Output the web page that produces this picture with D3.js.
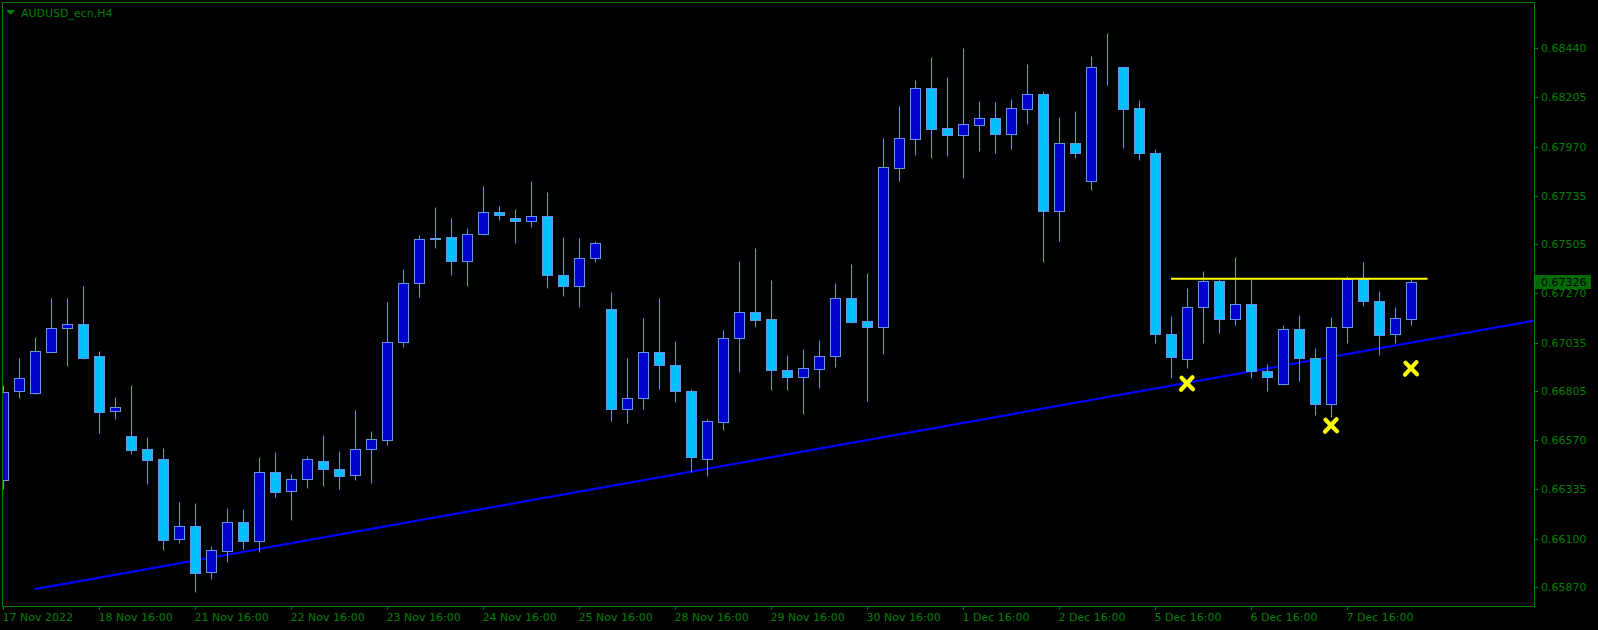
<!DOCTYPE html>
<html>
<head>
<meta charset="utf-8">
<script src="https://cdn.jsdelivr.net/npm/d3@7/dist/d3.min.js"></script>
<style>
  html, body { margin: 0; padding: 0; background: #000; }
  svg { display: block; }
  text { font-family: "DejaVu Sans", sans-serif; }
</style>
</head>
<body>
<script>
// ---------------- data ----------------
const symbolTitle = "AUDUSD_ecn,H4";
const timeLabels = ["17 Nov 2022","18 Nov 16:00","21 Nov 16:00","22 Nov 16:00","23 Nov 16:00","24 Nov 16:00","25 Nov 16:00","28 Nov 16:00","29 Nov 16:00","30 Nov 16:00","1 Dec 16:00","2 Dec 16:00","5 Dec 16:00","6 Dec 16:00","7 Dec 16:00"];
const timeLabelBars = [0,6,12,18,24,30,36,42,48,54,60,66,72,78,84];
const priceTicks = ["0.68440","0.68205","0.67970","0.67735","0.67505","0.67270","0.67035","0.66805","0.66570","0.66335","0.66100","0.65870"];

const open = [0.66379,0.66803,0.66794,0.66992,0.67104,0.67123,0.66970,0.66708,0.66589,0.66527,
0.66479,0.66097,0.66159,0.65940,0.66040,0.66179,0.66088,0.66417,0.66326,0.66384,
0.66469,0.66431,0.66403,0.66527,0.66569,0.67037,0.67318,0.67532,0.67537,0.67423,
0.67552,0.67657,0.67628,0.67614,0.67638,0.67356,0.67304,0.67437,0.67194,0.66717,
0.66770,0.66989,0.66927,0.66803,0.66479,0.66655,0.67056,0.67180,0.67146,0.66903,
0.66870,0.66911,0.66970,0.67247,0.67137,0.67108,0.67866,0.68005,0.68248,0.68057,
0.68027,0.68071,0.68105,0.68031,0.68151,0.68219,0.67664,0.67986,0.67807,0.68348,
0.68348,0.68152,0.67938,0.67075,0.66956,0.67204,0.67328,0.67149,0.67218,0.66898,
0.66836,0.67099,0.66963,0.66744,0.67108,0.67339,0.67232,0.67078,0.67146];
const high = [0.66833,0.66962,0.67062,0.67248,0.67248,0.67305,0.66994,0.66776,0.66833,0.66585,
0.66533,0.66275,0.66271,0.66066,0.66247,0.66242,0.66490,0.66514,0.66409,0.66495,
0.66595,0.66518,0.66714,0.66614,0.67229,0.67386,0.67548,0.67682,0.67629,0.67582,
0.67782,0.67687,0.67672,0.67806,0.67753,0.67539,0.67533,0.67520,0.67275,0.66962,
0.67153,0.67248,0.67043,0.66814,0.66672,0.67094,0.67426,0.67486,0.67332,0.66976,
0.67005,0.67048,0.67320,0.67410,0.67367,0.68011,0.68163,0.68287,0.68397,0.68302,
0.68440,0.68187,0.68183,0.68197,0.68364,0.68235,0.68111,0.68140,0.68402,0.68512,
0.68350,0.68192,0.67958,0.67162,0.67296,0.67377,0.67337,0.67443,0.67337,0.66932,
0.67119,0.67167,0.67010,0.67157,0.67353,0.67420,0.67281,0.67205,0.67337];
const low = [0.66337,0.66771,0.66790,0.66990,0.66925,0.66959,0.66606,0.66672,0.66506,0.66363,
0.66048,0.66081,0.65848,0.65910,0.65991,0.66051,0.66038,0.66301,0.66191,0.66343,
0.66353,0.66339,0.66382,0.66367,0.66548,0.67016,0.67254,0.67488,0.67359,0.67307,
0.67550,0.67621,0.67512,0.67585,0.67294,0.67259,0.67204,0.67421,0.66660,0.66651,
0.66717,0.66816,0.66754,0.66417,0.66398,0.66617,0.66894,0.67108,0.66808,0.66811,
0.66696,0.66819,0.66920,0.67130,0.66758,0.66982,0.67807,0.67931,0.67917,0.67926,
0.67822,0.67950,0.67941,0.67960,0.68079,0.67421,0.67521,0.67917,0.67764,0.68264,
0.67965,0.67907,0.67035,0.66868,0.66916,0.67035,0.67083,0.67121,0.66868,0.66806,
0.66835,0.66854,0.66692,0.66682,0.67035,0.67211,0.66978,0.67035,0.67121];
const close = [0.66801,0.66865,0.66994,0.67104,0.67123,0.66963,0.66706,0.66727,0.66525,0.66477,
0.66093,0.66159,0.65935,0.66045,0.66179,0.66088,0.66417,0.66324,0.66384,0.66479,
0.66434,0.66401,0.66527,0.66574,0.67037,0.67318,0.67528,0.67531,0.67423,0.67552,
0.67657,0.67642,0.67614,0.67638,0.67356,0.67304,0.67437,0.67509,0.66717,0.66770,
0.66989,0.66927,0.66803,0.66488,0.66660,0.67056,0.67180,0.67142,0.66903,0.66873,
0.66913,0.66970,0.67247,0.67135,0.67108,0.67871,0.68009,0.68248,0.68055,0.68027,
0.68076,0.68105,0.68031,0.68152,0.68219,0.67664,0.67986,0.67941,0.68348,0.68349,
0.68151,0.67938,0.67075,0.66965,0.67204,0.67328,0.67149,0.67218,0.66898,0.66873,
0.67099,0.66960,0.66744,0.67108,0.67339,0.67235,0.67073,0.67151,0.67326];

const currentPrice = "0.67326";
// trendline anchors (bar index, price)
const trendBars = [2, 88];
const trendPrices = [0.65860, 0.67035];
// horizontal level (bar range, price)
const levelBars = [73, 89];
const levelPrice = 0.67340;
// cross markers
const markBars = [74, 83, 88];
const markPrices = [0.66839, 0.66639, 0.66911];

// ---------------- drawing ----------------
const W = 1598, H = 630;
const frame = {l: 2, t: 2, r: 1534, b: 606};
const GREEN = "#008000";
const WICK = "#6495ED";
const BULL = "#0000CD";
const BEAR = "#00BFFF";

const svg = d3.select("body").append("svg").attr("width", W).attr("height", H);
svg.append("rect").attr("width", W).attr("height", H).attr("fill", "#000");

const x = d3.scaleLinear().domain([0, 88]).range([3, 1411]);
const y = d3.scaleLinear().domain([0.65870, 0.68440]).range([587, 48]);

svg.append("clipPath").attr("id", "plot")
  .append("rect").attr("x", frame.l + 1).attr("y", frame.t + 1)
  .attr("width", frame.r - frame.l - 1).attr("height", frame.b - frame.t - 1);

const plot = svg.append("g").attr("clip-path", "url(#plot)");

const bars = d3.range(open.length).map(i => ({i, o: open[i], h: high[i], l: low[i], c: close[i]}));
const py = v => Math.round(y(v)) + 0.5;

// trendline (ray to the right)
const slope = (y(trendPrices[1]) - y(trendPrices[0])) / (x(trendBars[1]) - x(trendBars[0]));
const tx0 = x(trendBars[0]), ty0 = y(trendPrices[0]);
const tx1 = frame.r;
plot.append("line")
  .attr("x1", tx0).attr("y1", ty0)
  .attr("x2", tx1).attr("y2", ty0 + slope * (tx1 - tx0))
  .attr("stroke", "#0000FF").attr("stroke-width", 2.2);

// wicks
plot.selectAll("line.wick").data(bars).join("line").attr("class", "wick")
  .attr("x1", d => Math.round(x(d.i)) + 0.5).attr("x2", d => Math.round(x(d.i)) + 0.5)
  .attr("y1", d => py(d.h)).attr("y2", d => py(d.l))
  .attr("stroke", WICK).attr("stroke-width", 1);

// bodies
plot.selectAll("rect.body").data(bars).join("rect").attr("class", "body")
  .attr("x", d => Math.round(x(d.i)) - 4.5)
  .attr("y", d => Math.min(py(d.o), py(d.c)))
  .attr("width", 10)
  .attr("height", d => Math.abs(py(d.o) - py(d.c)))
  .attr("fill", d => d.c >= d.o ? BULL : BEAR)
  .attr("stroke", WICK).attr("stroke-width", 1);

// horizontal level
plot.append("line")
  .attr("x1", x(levelBars[0])).attr("x2", x(levelBars[1]) + 0.5)
  .attr("y1", y(levelPrice)).attr("y2", y(levelPrice))
  .attr("stroke", "#FFFF00").attr("stroke-width", 2);

// cross markers
const marks = markBars.map((b, k) => ({b, p: markPrices[k]}));
plot.selectAll("path.mark").data(marks).join("path").attr("class", "mark")
  .attr("transform", d => `translate(${x(d.b)},${y(d.p)})`)
  .attr("d", "M-5.5,-6 L6,5.5 M5.5,-6.5 L-6,6")
  .attr("stroke", "#FFFF00").attr("stroke-width", 4.2)
  .attr("stroke-linecap", "round").attr("fill", "none");

// frame
svg.append("rect")
  .attr("x", frame.l + 0.5).attr("y", frame.t + 0.5)
  .attr("width", frame.r - frame.l).attr("height", frame.b - frame.t)
  .attr("fill", "none").attr("stroke", GREEN).attr("stroke-width", 1);

// title
svg.append("path").attr("d", "M6,10 L15,10 L10.5,15 Z").attr("fill", GREEN);
svg.append("text").attr("x", 21).attr("y", 16.5).attr("fill", GREEN)
  .attr("font-size", 11).text(symbolTitle);

// y axis
const yAxis = svg.append("g");
priceTicks.forEach(t => {
  const yy = Math.round(y(+t)) + 0.5;
  yAxis.append("line").attr("x1", frame.r).attr("x2", frame.r + 4)
    .attr("y1", yy).attr("y2", yy).attr("stroke", GREEN);
  yAxis.append("text").attr("x", 1541).attr("y", yy).attr("dy", "0.36em")
    .attr("fill", GREEN).attr("font-size", 11).text(t);
});

// current price box
const cy = y(+currentPrice);
svg.append("rect").attr("x", 1535).attr("y", Math.round(cy) - 7).attr("width", 56).attr("height", 14)
  .attr("fill", "#006b00");
svg.append("text").attr("x", 1541).attr("y", cy).attr("dy", "0.36em")
  .attr("fill", "#000").attr("font-size", 11).text(currentPrice);

// x axis
const xAxis = svg.append("g");
timeLabelBars.forEach((b, k) => {
  const xx = Math.round(x(b)) + 0.5;
  xAxis.append("line").attr("x1", xx).attr("x2", xx)
    .attr("y1", frame.b).attr("y2", frame.b + 4).attr("stroke", GREEN);
  xAxis.append("text").attr("x", xx - 1).attr("y", 621)
    .attr("fill", GREEN).attr("font-size", 11).text(timeLabels[k]);
});
</script>
</body>
</html>
